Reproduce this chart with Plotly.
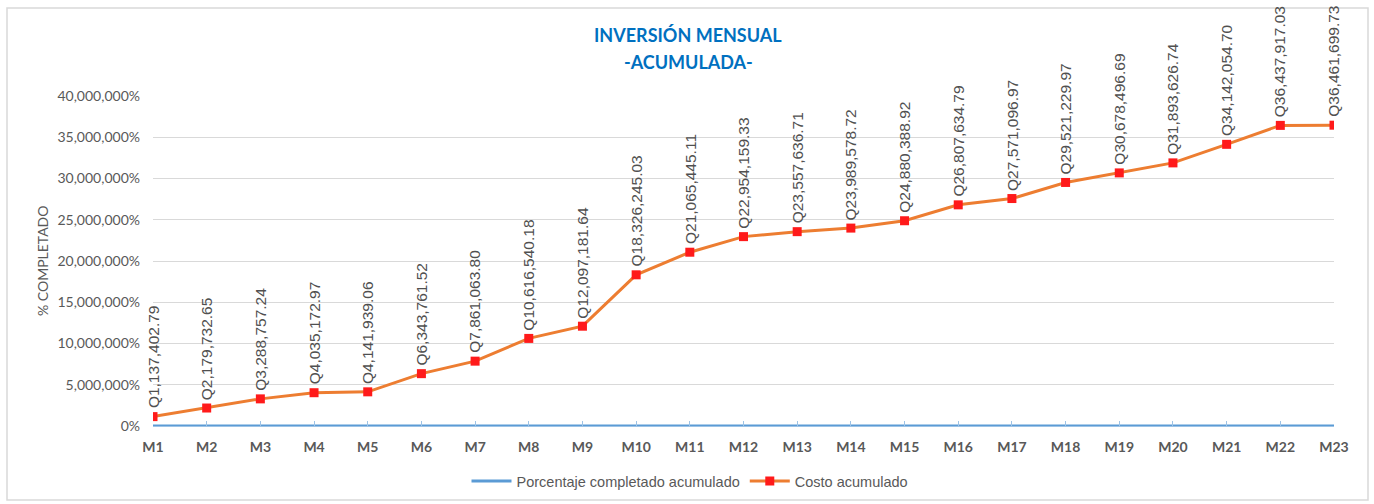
import plotly.graph_objects as go

# Monthly cumulative figures
months = ["M1", "M2", "M3", "M4", "M5", "M6", "M7", "M8", "M9", "M10", "M11", "M12",
          "M13", "M14", "M15", "M16", "M17", "M18", "M19", "M20", "M21", "M22", "M23"]

costo_acumulado = [1137402.79, 2179732.65, 3288757.24, 4035172.97, 4141939.06,
                   6343761.52, 7861063.80, 10616540.18, 12097181.64, 18326245.03,
                   21065445.11, 22954159.33, 23557636.71, 23989578.72, 24880388.92,
                   26807634.79, 27571096.97, 29521229.97, 30678496.69, 31893626.74,
                   34142054.70, 36437917.03, 36461699.73]

porcentaje_acumulado = [0.03, 0.06, 0.09, 0.11, 0.11, 0.17, 0.22, 0.29, 0.33, 0.50,
                        0.58, 0.63, 0.65, 0.66, 0.68, 0.74, 0.76, 0.81, 0.84, 0.87,
                        0.94, 1.00, 1.00]

y_tickvals = [0, 5e6, 10e6, 15e6, 20e6, 25e6, 30e6, 35e6, 40e6]
y_ticktext = ["0%", "5,000,000%", "10,000,000%", "15,000,000%", "20,000,000%",
              "25,000,000%", "30,000,000%", "35,000,000%", "40,000,000%"]

W, H = 1374, 504
ML, MR, MT, MB = 153, 40, 96, 78
PW = W - ML - MR
PH = H - MT - MB


def px_x(p):
    return (p - ML) / PW


def px_y(p):
    return (H - MB - p) / PH


fig = go.Figure()

fig.add_trace(go.Scatter(
    x=months, y=porcentaje_acumulado, mode="lines",
    name="Porcentaje completado acumulado",
    line=dict(color="#5B9BD5", width=3),
))

fig.add_trace(go.Scatter(
    x=months, y=costo_acumulado, mode="lines+markers",
    name="Costo acumulado",
    line=dict(color="#ED7D31", width=3),
    marker=dict(symbol="square", size=9, color="#FF1A1A",
                line=dict(width=0)),
))

annotations = []
for m, v in zip(months, costo_acumulado):
    annotations.append(dict(
        x=m, y=v, xref="x", yref="y",
        text="Q{:,.2f}".format(v),
        textangle=-90, showarrow=False,
        xanchor="center", yanchor="bottom", yshift=6,
        font=dict(family="Liberation Sans", size=15.5, color="#505050"),
    ))

annotations += [
    dict(text="<b>INVERSIÓN MENSUAL</b>", x=px_x(688), y=px_y(35),
         xref="paper", yref="paper", showarrow=False,
         xanchor="center", yanchor="middle",
         font=dict(family="Lato", size=18, color="#0070C0")),
    dict(text="<b>-ACUMULADA-</b>", x=px_x(688), y=px_y(62),
         xref="paper", yref="paper", showarrow=False,
         xanchor="center", yanchor="middle",
         font=dict(family="Lato", size=18, color="#0070C0")),
    dict(text="% COMPLETADO", x=px_x(42), y=0.5,
         xref="paper", yref="paper", showarrow=False, textangle=-90,
         xanchor="center", yanchor="middle",
         font=dict(family="Lato", size=14, color="#595959")),
]

fig.update_layout(
    width=W, height=H,
    margin=dict(l=ML, r=MR, t=MT, b=MB, autoexpand=False),
    paper_bgcolor="white", plot_bgcolor="white",
    showlegend=True,
    legend=dict(orientation="h", x=px_x(690), y=px_y(481),
                xanchor="center", yanchor="middle",
                font=dict(family="Liberation Sans", size=14.5, color="#595959"),
                itemwidth=40, traceorder="normal"),
    annotations=annotations,
    shapes=[dict(type="rect", xref="paper", yref="paper",
                 x0=px_x(7), x1=px_x(1368), y0=px_y(500), y1=px_y(8),
                 line=dict(color="#D9D9D9", width=1.5), layer="below")],
    xaxis=dict(
        type="category", range=[0, len(months) - 1], automargin=False,
        showgrid=False, zeroline=False,
        showline=True, linecolor="#9DC3E6", linewidth=1,
        ticks="inside", ticklen=5, tickcolor="#9DC3E6",
        tickfont=dict(family="Lato", size=14, color="#595959", weight="bold"),
        ticklabelstandoff=8,
    ),
    yaxis=dict(
        range=[0, 40e6], tickvals=y_tickvals, ticktext=y_ticktext, automargin=False,
        showgrid=True, gridcolor="#D9D9D9", gridwidth=1,
        zeroline=False, showline=False, ticks="",
        tickfont=dict(family="Lato", size=14, color="#595959"),
        ticklabelstandoff=12,
    ),
)

fig.write_html("out.html")
